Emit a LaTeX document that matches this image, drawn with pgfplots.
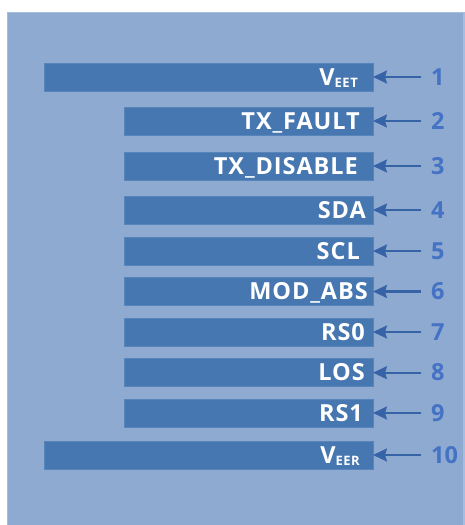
\documentclass[border=0pt]{standalone}
\usepackage{pgfplots}
\pgfplotsset{compat=1.18}
\usepackage{pgfplotstable}
\usetikzlibrary{arrows.meta}
\usepackage{fontspec}
\setmainfont{Open Sans}
\newfontfamily\labfont[LetterSpace=4]{Open Sans}
\definecolor{panel}{HTML}{8FAAD0}
\definecolor{panelborder}{HTML}{A6BDE0}
\definecolor{barblue}{HTML}{4677B0}
\definecolor{barborder}{HTML}{5884BC}
\definecolor{numblue}{HTML}{4472C4}
\definecolor{arrowblue}{HTML}{3563A6}
\pgfplotstableread{
y     start len ax  u
77    44    329 421 -48
121   124   249 421 -48
166   124   249 421 -48
210   124   249 421 -48
251   124   249 421 -48
291.5 124   249 421 -48
332   124   249 421 -48
372.7 124   249 421 -48
413   124   249 421 -48
455   44    329 421 -48
}\pins
\newcommand{\lab}{\labfont\fontsize{23.5}{23.5}\selectfont\bfseries}
\newcommand{\num}{\fontsize{23.5}{23.5}\selectfont\bfseries}
\newcommand{\subtxt}[1]{\raisebox{-2pt}{\labfont\fontsize{13}{13}\selectfont\bfseries #1}}
\pgfplotsset{pinaxis/.style={
  width=465pt, height=525pt, scale only axis,
  xmin=0, xmax=465, ymin=0, ymax=525, y dir=reverse,
  hide axis, clip=false}}
\begin{document}
\begin{tikzpicture}
\begin{axis}[pinaxis]
\path[use as bounding box] (axis cs:0,0) rectangle (axis cs:465,525);
\fill[white] (axis cs:0,0) rectangle (axis cs:465,525);
\fill[panel] (axis cs:7.5,12) rectangle (axis cs:465,525);
\draw[panelborder, line width=0.8pt] (axis cs:7.5,525) -- (axis cs:7.5,12) -- (axis cs:465,12);
\fill[panelborder] (axis cs:462.5,12) rectangle (axis cs:465,525);
\end{axis}
\begin{axis}[pinaxis, xbar stacked, bar width=28]
\addplot[draw=none, fill=none] table[x=start, y=y] {\pins};
\addplot[fill=barblue, draw=barborder, line width=0.5pt] table[x=len, y=y] {\pins};
\end{axis}
\begin{axis}[pinaxis]
\addplot[draw=arrowblue, line width=2.1pt,
  quiver={u=\thisrow{u}, v=0},
  -{Stealth[length=14pt, width=13pt, inset=2pt]}]
  table[x=ax, y=y] {\pins};
% pin names
\begin{scope}[every node/.style={text=white, inner sep=0pt, anchor=base east}]
\node at (axis cs:358,85) {\lab V\subtxt{EET}};
\node at (axis cs:360,129) {\lab TX\_FAULT};
\node at (axis cs:358,174) {\lab TX\_DISABLE};
\node at (axis cs:366,218) {\lab SDA};
\node at (axis cs:360,259) {\lab SCL};
\node at (axis cs:368,299.5) {\lab MOD\_ABS};
\node at (axis cs:365,340) {\lab RS0};
\node at (axis cs:365,380.7) {\lab LOS};
\node at (axis cs:363,421) {\lab RS1};
\node at (axis cs:360,463) {\lab V\subtxt{EER}};
\end{scope}
% pin numbers
\begin{scope}[every node/.style={text=numblue, inner sep=0pt, anchor=base west}]
\node at (axis cs:431,85) {\num 1};
\node at (axis cs:431,129) {\num 2};
\node at (axis cs:431,174) {\num 3};
\node at (axis cs:431,218) {\num 4};
\node at (axis cs:431,259) {\num 5};
\node at (axis cs:431,299.5) {\num 6};
\node at (axis cs:431,340) {\num 7};
\node at (axis cs:431,380.7) {\num 8};
\node at (axis cs:431,421) {\num 9};
\node at (axis cs:431,463) {\num 10};
\end{scope}
\end{axis}
\end{tikzpicture}
\end{document}
